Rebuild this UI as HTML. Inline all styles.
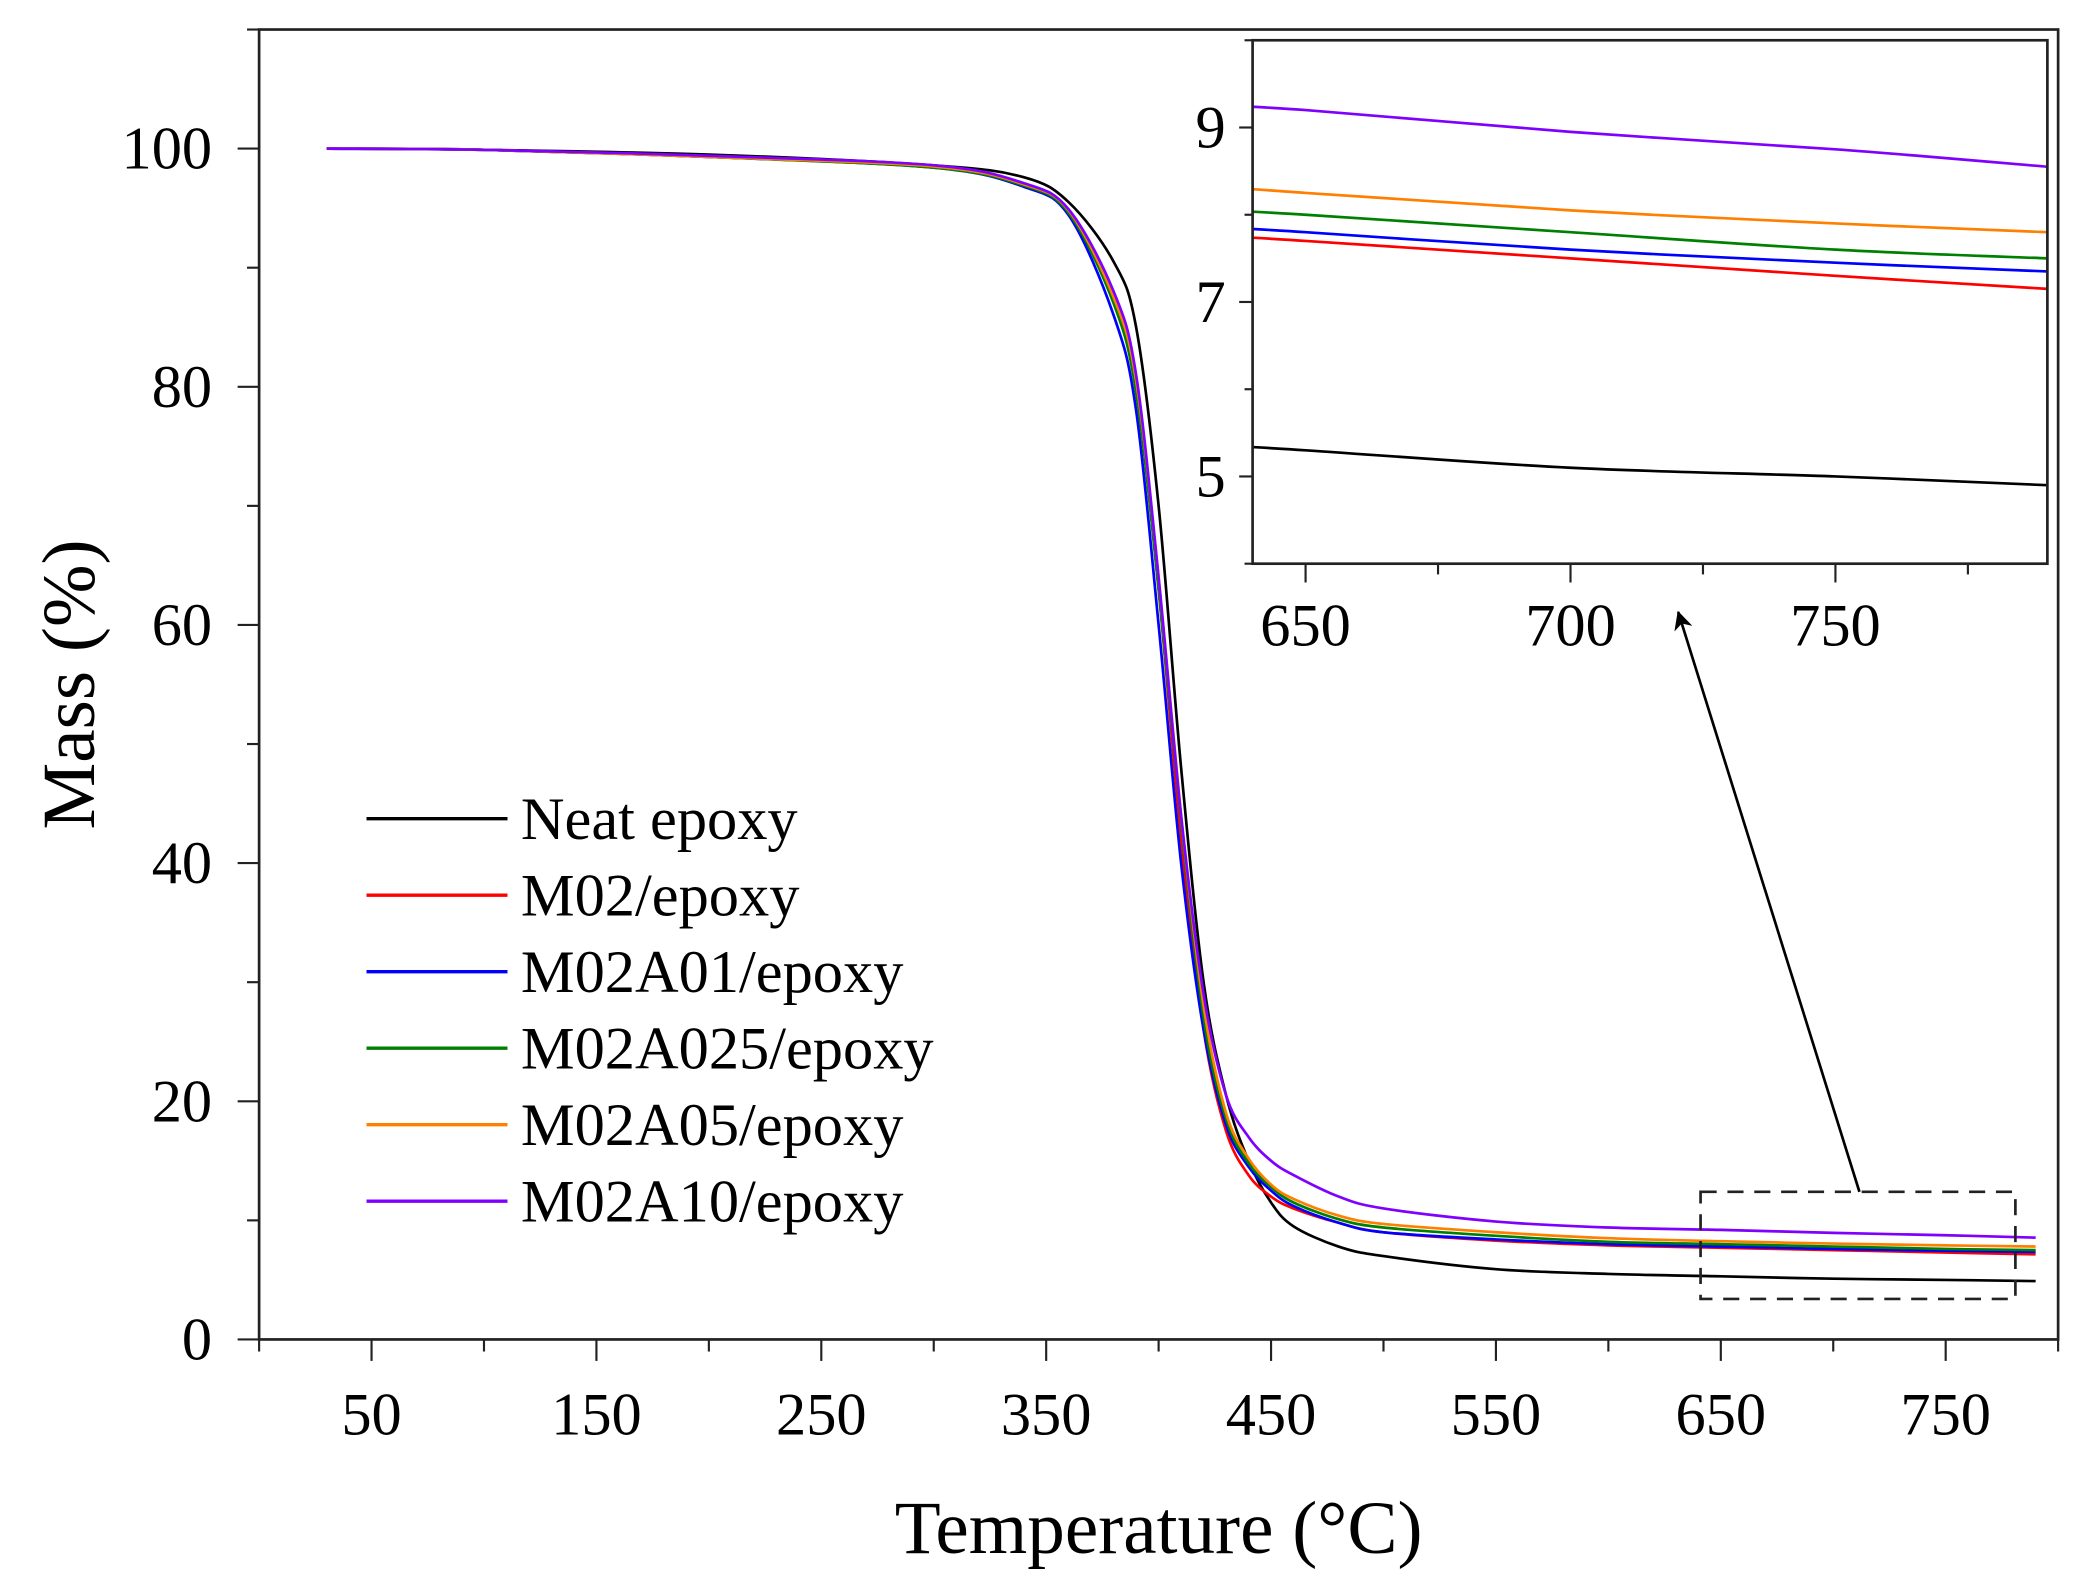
<!DOCTYPE html>
<html><head><meta charset="utf-8"><style>
html,body{margin:0;padding:0;background:#fff;width:2089px;height:1577px;overflow:hidden}
svg{display:block}
text{font-family:"Liberation Serif",serif;fill:#000}
</style></head><body>
<svg id="chart" width="2089" height="1577" viewBox="0 0 1556 1175" preserveAspectRatio="none" xmlns="http://www.w3.org/2000/svg">
<defs>
<clipPath id="clipMain"><rect x="193" y="22" width="1340" height="976"/></clipPath>
<clipPath id="clipInset"><rect x="933" y="30" width="592" height="390"/></clipPath>
<marker id="arrowHead" markerWidth="14" markerHeight="14" refX="13" refY="7" orient="auto" markerUnits="userSpaceOnUse"><path d="M0,0 L14,7 L0,14 L4,7 z" fill="#000"/></marker>
</defs>
<g id="main"></g>
<g id="inset"></g>
<g id="legend"></g>
</svg>
<script>
const temps = [30,100,200,300,340,360,380,390,400,410,420,430,440,450,460,480,500,550,600,650,700,750,790];
const seriesNames = ["Neat epoxy","M02/epoxy","M02A01/epoxy","M02A025/epoxy","M02A05/epoxy","M02A10/epoxy"];
const seriesColors = ["#000000","#ff0000","#0000ff","#008000","#ff8000","#8000ff"];
const neat   = [100,99.9,99.5,98.6,97.6,95.5,90.5,85,70,48,30,20.5,15,11.5,9.5,7.8,7.0,5.9,5.5,5.3,5.1,5.0,4.9];
const m02    = [100,99.9,99.3,98.5,97,94.8,87.5,80,63,42,26,17.5,13.8,12,11,9.8,9,8.3,7.9,7.7,7.5,7.3,7.15];
const m02a01 = [100,99.9,99.3,98.4,96.8,94.4,86,78,60,40,26,18,14.5,12.5,11.2,9.8,9.0,8.4,8.0,7.8,7.6,7.45,7.35];
const m02a025= [100,99.9,99.3,98.4,96.9,94.6,87,79.5,63,43.5,27,18.5,14.8,12.8,11.5,10.1,9.4,8.7,8.2,8.0,7.8,7.6,7.5];
const m02a05 = [100,99.9,99.3,98.5,97,94.8,87.5,80.5,64,44,28,19,15.2,13,11.8,10.4,9.7,9,8.5,8.25,8.05,7.9,7.8];
const m02a10 = [100,99.9,99.4,98.6,97.1,94.9,88,81,64,44,29,20.5,17,15,13.8,12,11,9.9,9.4,9.2,8.95,8.75,8.55];
const allSeries = [neat,m02,m02a01,m02a025,m02a05,m02a10];
const xTicks = [50,150,250,350,450,550,650,750];
const yTicks = [0,20,40,60,80,100];
const insetXTicks = [650,700,750];
const insetYTicks = [5,7,9];

const NS="http://www.w3.org/2000/svg";
function mk(tag,attrs,parent){const e=document.createElementNS(NS,tag);for(const k in attrs)e.setAttribute(k,attrs[k]);parent.appendChild(e);return e;}

const M={l:193,r:1533,t:22,b:998,x0:0,x1:800,y0:0,y1:110};
const mx=v=>M.l+(v-M.x0)/(M.x1-M.x0)*(M.r-M.l);
const my=v=>M.b-(v-M.y0)/(M.y1-M.y0)*(M.b-M.t);
const I={l:933,r:1525,t:30,b:420,x0:640,x1:790,y0:4,y1:10};
const ix=v=>I.l+(v-I.x0)/(I.x1-I.x0)*(I.r-I.l);
const iy=v=>I.b-(v-I.y0)/(I.y1-I.y0)*(I.b-I.t);

function pathFor(xs,ys,fx,fy){
  const p=xs.map((x,i)=>[fx(x),fy(ys[i])]);
  let d="M"+p[0][0].toFixed(2)+","+p[0][1].toFixed(2);
  for(let i=0;i<p.length-1;i++){
    const p0=p[i-1]||p[i],p1=p[i],p2=p[i+1],p3=p[i+2]||p2;
    const c1=[p1[0]+(p2[0]-p0[0])/6,p1[1]+(p2[1]-p0[1])/6];
    const c2=[p2[0]-(p3[0]-p1[0])/6,p2[1]-(p3[1]-p1[1])/6];
    d+=" C"+c1.map(v=>v.toFixed(2))+" "+c2.map(v=>v.toFixed(2))+" "+p2.map(v=>v.toFixed(2));
  }
  return d;
}

const main=document.getElementById('main');
const sg=mk('g',{'clip-path':'url(#clipMain)'},main);


allSeries.forEach((s,i)=>{
  const p=mk('path',{d:pathFor(temps,s,mx,my),fill:'none',stroke:seriesColors[i],'stroke-width':2},sg);
  
  
});
const fr=mk('rect',{x:M.l,y:M.t,width:M.r-M.l,height:M.b-M.t,fill:'none',stroke:'#222','stroke-width':2},main);


for(let v=0;v<=800;v+=50){
  const major=xTicks.includes(v);
  const t=mk('line',{x1:mx(v),x2:mx(v),y1:M.b,y2:M.b+(major?16:9),stroke:'#222','stroke-width':1.6},main);
  
  
}
xTicks.forEach(v=>{
  const t=mk('text',{x:mx(v),y:1069,'text-anchor':'middle','font-size':45},main);t.textContent=v;
  
  
});
for(let v=0;v<=110;v+=10){
  const major=yTicks.includes(v);
  const t=mk('line',{x1:M.l-(major?16:9),x2:M.l,y1:my(v),y2:my(v),stroke:'#222','stroke-width':1.6},main);
  
  
}
yTicks.forEach(v=>{
  const t=mk('text',{x:158,y:my(v)+15,'text-anchor':'end','font-size':45},main);t.textContent=v;
  
  
});
const xt=mk('text',{x:863,y:1157,'text-anchor':'middle','font-size':56},main);xt.textContent='Temperature (°C)';


const yt=mk('text',{x:0,y:0,'text-anchor':'middle','font-size':56,transform:'translate(70,510) rotate(-90)'},main);yt.textContent='Mass (%)';


const zb=mk('rect',{x:mx(641),y:my(12.4),width:mx(781)-mx(641),height:my(3.4)-my(12.4),fill:'none',stroke:'#222','stroke-width':2,'stroke-dasharray':'12,8'},main);


const ar=mk('line',{x1:1385,y1:888,x2:1250,y2:456,stroke:'#000','stroke-width':2,'marker-end':'url(#arrowHead)'},main);



const inset=document.getElementById('inset');


mk('rect',{x:I.l,y:I.t,width:I.r-I.l,height:I.b-I.t,fill:'#fff'},inset);
const ig=mk('g',{'clip-path':'url(#clipInset)'},inset);
allSeries.forEach((s,i)=>{
  const p=mk('path',{d:pathFor(temps,s,ix,iy),fill:'none',stroke:seriesColors[i],'stroke-width':2},ig);
  
  
});
const ifr=mk('rect',{x:I.l,y:I.t,width:I.r-I.l,height:I.b-I.t,fill:'none',stroke:'#222','stroke-width':2},inset);


for(let v=650;v<=775;v+=25){
  const major=insetXTicks.includes(v);
  const t=mk('line',{x1:ix(v),x2:ix(v),y1:I.b,y2:I.b+(major?14:8),stroke:'#222','stroke-width':1.6},inset);
  
  
}
insetXTicks.forEach(v=>{
  const t=mk('text',{x:ix(v),y:481,'text-anchor':'middle','font-size':45},inset);t.textContent=v;
  
  
});
for(let v=4;v<=10;v+=1){
  const major=insetYTicks.includes(v);
  const t=mk('line',{x1:I.l-(major?10:6),x2:I.l,y1:iy(v),y2:iy(v),stroke:'#222','stroke-width':1.6},inset);
  
  
}
insetYTicks.forEach(v=>{
  const t=mk('text',{x:913,y:iy(v)+15,'text-anchor':'end','font-size':45},inset);t.textContent=v;
  
  
});

const lg=document.getElementById('legend');


seriesNames.forEach((n,i)=>{
  const y=610+i*57;
  const g=mk('g',{},lg);
  
  
  mk('line',{x1:273,x2:378,y1:y,y2:y,stroke:seriesColors[i],'stroke-width':2.5},g);
  const t=mk('text',{x:388,y:y+15,'font-size':45},g);t.textContent=n;
});
</script>
</body></html>
